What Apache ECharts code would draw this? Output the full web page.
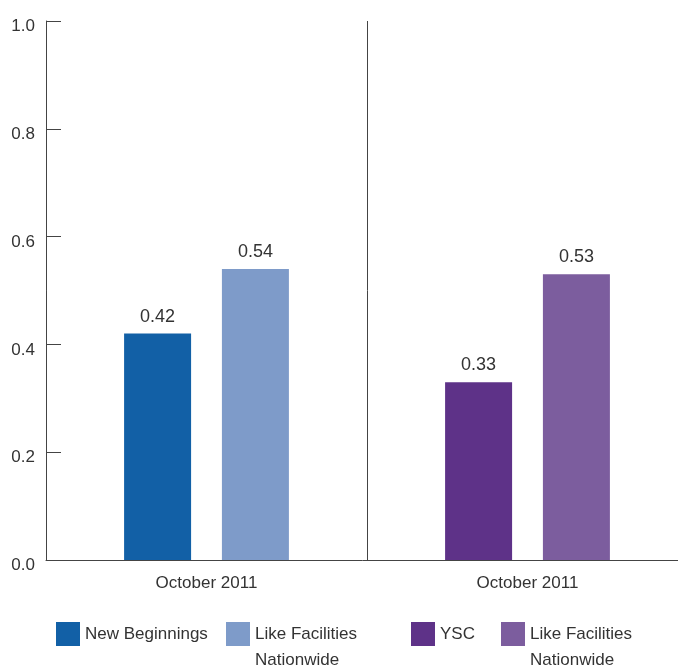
<!DOCTYPE html>
<html>
<head>
<meta charset="utf-8">
<title>October 2011 comparison</title>
<script src="https://cdn.jsdelivr.net/npm/echarts@6/dist/echarts.min.js"></script>
<style>
  html, body { margin: 0; padding: 0; background: #ffffff; }
  #chart { width: 678px; height: 668px; }
</style>
</head>
<body>
<div id="chart"></div>
<script>
// Category labels along the bottom axis
const categories = ['October 2011', 'October 2011'];

// Series values (one group per facility; the other slot is empty)
const newBeginnings = [0.42, '-'];
const likeFacilitiesNB = [0.54, '-'];
const ysc = ['-', 0.33];
const likeFacilitiesYSC = ['-', 0.53];

// Value axis ticks
const yTicks = [0.0, 0.2, 0.4, 0.6, 0.8, 1.0];

// Legend labels shown next to each swatch
// (two-line labels start with a blank line so the swatch sits beside the first line)
const legendLabels = {
  nb: 'New Beginnings',
  nbLike: ' \nLike Facilities\nNationwide',
  ysc: 'YSC',
  yscLike: ' \nLike Facilities\nNationwide'
};

const FONT = "'Liberation Sans', Arial, sans-serif";
const FONT_SIZE = 17;
const TEXT = '#333333';
const LINE = '#444444';
const colors = {
  nb: '#1260a6',
  nbLike: '#7e9bc9',
  ysc: '#5e3288',
  yscLike: '#7c5d9e'
};

function barSeries(id, data, stack) {
  return {
    id: id,
    name: id,
    type: 'bar',
    data: data,
    stack: stack,
    barWidth: 67,
    barGap: '46%',
    itemStyle: { color: colors[id] },
    label: {
      show: true,
      position: 'top',
      distance: 8,
      fontFamily: FONT,
      fontSize: 18,
      color: TEXT,
      formatter: p => Number(p.value).toFixed(2)
    },
    emphasis: { disabled: true }
  };
}

function legendFor(id, left, twoLines) {
  return {
    show: true,
    data: [id],
    left: left,
    top: twoLines ? 595 : 621,
    padding: 0,
    itemWidth: 24,
    itemHeight: 24,
    itemGap: 0,
    icon: 'rect',
    selectedMode: false,
    formatter: name => legendLabels[name],
    textStyle: {
      fontFamily: FONT,
      fontSize: FONT_SIZE,
      color: TEXT,
      lineHeight: 26
    }
  };
}

const chart = echarts.init(document.getElementById('chart'), null, { renderer: 'canvas' });

chart.setOption({
  animation: false,
  backgroundColor: '#ffffff',
  grid: {
    left: 46,
    right: -10,
    top: 21,
    bottom: 108,
    outerBoundsMode: 'none',
    containLabel: false
  },
  xAxis: {
    type: 'category',
    data: categories,
    axisLine: { show: true, lineStyle: { color: LINE, width: 1 } },
    axisTick: { show: false },
    splitLine: { show: true, lineStyle: { color: LINE, width: 1 } },
    axisLabel: {
      fontFamily: FONT,
      fontSize: FONT_SIZE,
      color: TEXT,
      margin: 15
    }
  },
  yAxis: {
    type: 'value',
    min: yTicks[0],
    max: yTicks[yTicks.length - 1],
    interval: 0.2,
    axisLine: { show: true, lineStyle: { color: LINE, width: 1 } },
    axisTick: { show: true, inside: true, length: 15, lineStyle: { color: LINE, width: 1 } },
    splitLine: { show: false },
    axisLabel: {
      fontFamily: FONT,
      fontSize: FONT_SIZE,
      color: TEXT,
      margin: 11,
      verticalAlign: 'top',
      lineHeight: 11,
      formatter: v => v.toFixed(1)
    }
  },
  legend: [
    legendFor('nb', 56, false),
    legendFor('nbLike', 226, true),
    legendFor('ysc', 411, false),
    legendFor('yscLike', 501, true)
  ],
  series: [
    barSeries('nb', newBeginnings, 'first'),
    barSeries('nbLike', likeFacilitiesNB, 'second'),
    barSeries('ysc', ysc, 'first'),
    barSeries('yscLike', likeFacilitiesYSC, 'second')
  ]
});
</script>
</body>
</html>
